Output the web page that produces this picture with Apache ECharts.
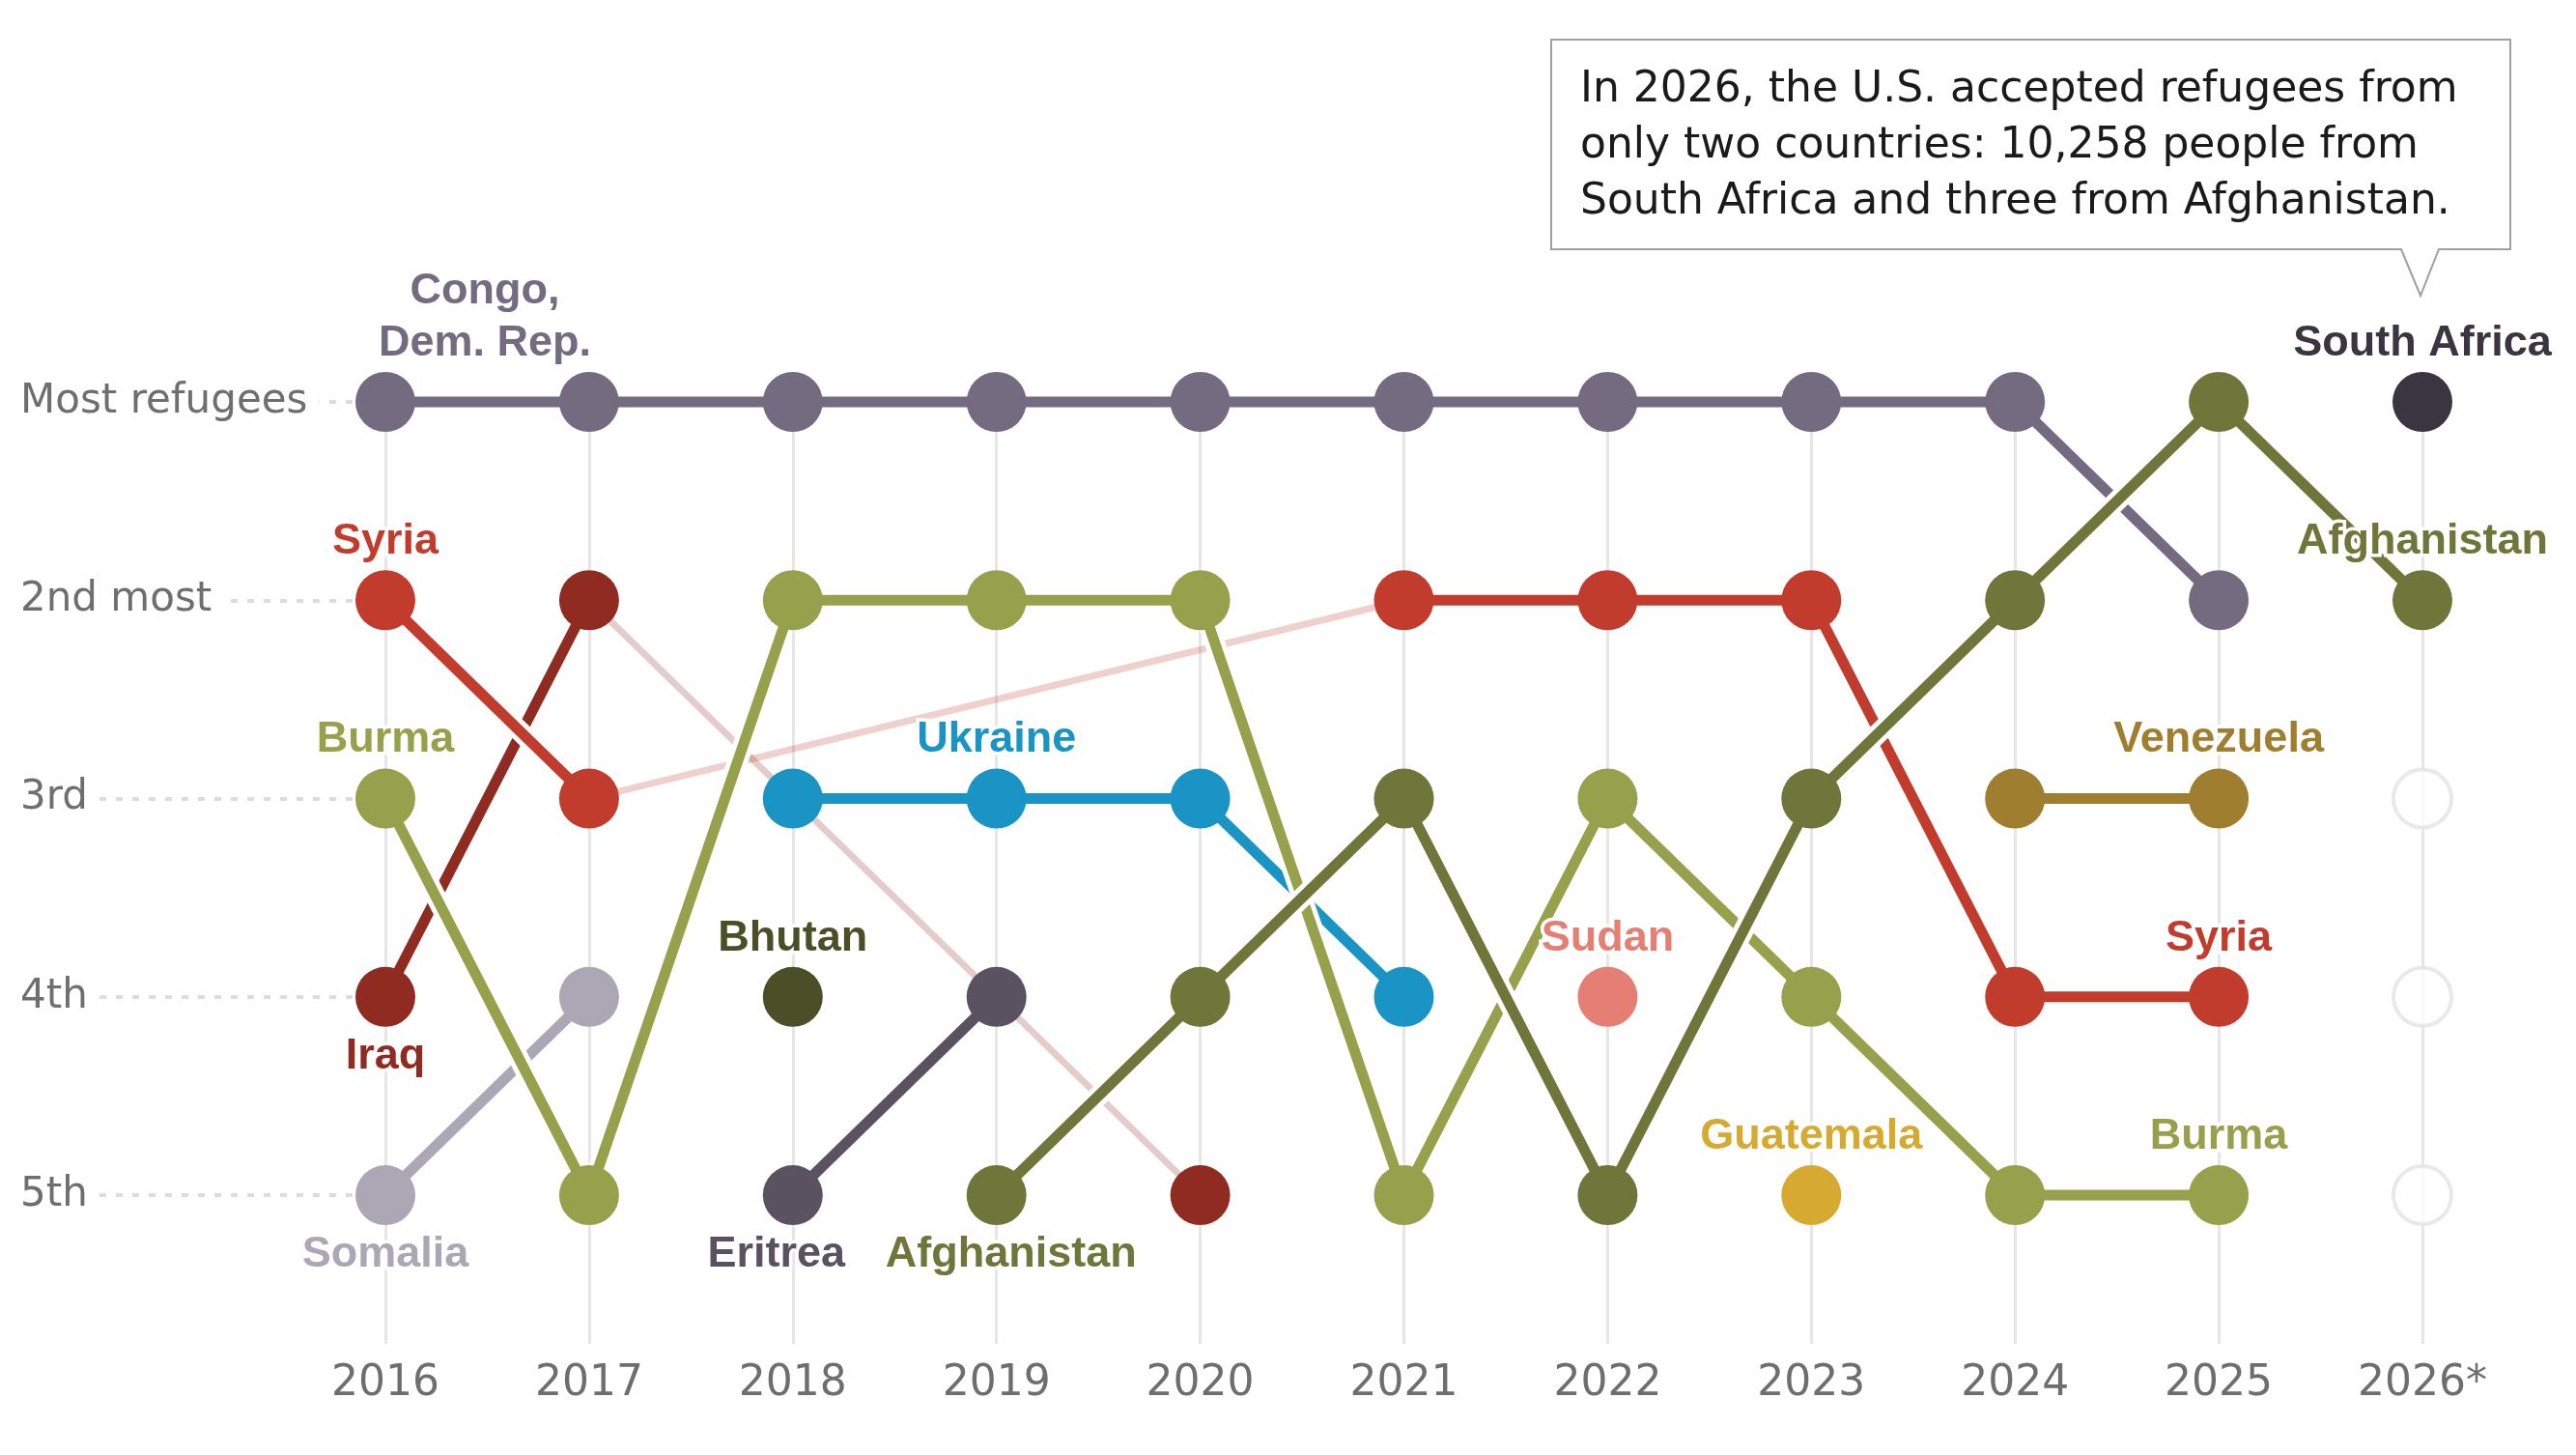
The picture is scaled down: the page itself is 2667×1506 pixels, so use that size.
<!DOCTYPE html>
<html><head><meta charset="utf-8">
<script src="https://cdn.jsdelivr.net/npm/echarts@6/dist/echarts.min.js"></script>
<style>html,body{margin:0;padding:0;background:#fff}#c{width:2667px;height:1506px}</style>
</head><body><div id="c"></div><script>
// ---- data ----
const years = ['2016','2017','2018','2019','2020','2021','2022','2023','2024','2025','2026*'];
const rankLabels = ['Most refugees','2nd most','3rd','4th','5th'];
const congo       = [1,1,1,1,1,1,1,1,1,2,null];
const syria       = [2,3,null,null,null,2,2,2,4,4,null];
const syriaGap    = [null,3,null,null,null,2,null,null,null,null,null];
const iraq        = [4,2,null,null,5,null,null,null,null,null,null];
const iraqGap     = [null,2,null,null,5,null,null,null,null,null,null];
const burma       = [3,5,2,2,2,5,3,4,5,5,null];
const somalia     = [5,4,null,null,null,null,null,null,null,null,null];
const ukraine     = [null,null,3,3,3,4,null,null,null,null,null];
const bhutan      = [null,null,4,null,null,null,null,null,null,null,null];
const eritrea     = [null,null,5,4,null,null,null,null,null,null,null];
const afghanistan = [null,null,null,5,4,3,5,3,2,1,2];
const sudan       = [null,null,null,null,null,null,4,null,null,null,null];
const guatemala   = [null,null,null,null,null,null,null,5,null,null,null];
const venezuela   = [null,null,null,null,null,null,null,null,3,3,null];
const southAfrica = [null,null,null,null,null,null,null,null,null,null,1];
const emptySlots  = [null,null,null,null,null,null,null,null,null,null,[3,4,5]];
const noteText = 'In 2026, the U.S. accepted refugees from\nonly two countries: 10,258 people from\nSouth Africa and three from Afghanistan.';

// ---- styles ----
const FONT = '"Liberation Sans", Arial, sans-serif';
const FONT_REG = '"DejaVu Sans", "Liberation Sans", sans-serif';
const countries = [
  {name:'Somalia', ranks:somalia, color:'#aca7b4', labels:[[0,'bottom','Somalia',0]]},
  {name:'Iraq', ranks:iraq, color:'#8f2b20', labels:[[0,'bottom','Iraq',0]]},
  {name:'Syria', ranks:syria, color:'#c13c2c', labels:[[0,'top','Syria',0],[9,'top','Syria',0]]},
  {name:'Congo', ranks:congo, color:'#756b80', labels:[[0,'top','Congo,\nDem. Rep.',103]]},
  {name:'Eritrea', ranks:eritrea, color:'#5a5261', labels:[[2,'bottom','Eritrea',-17]]},
  {name:'Bhutan', ranks:bhutan, color:'#4a4f27', labels:[[2,'top','Bhutan',0]]},
  {name:'Ukraine', ranks:ukraine, color:'#1a93c5', labels:[[3,'top','Ukraine',0]]},
  {name:'Burma', ranks:burma, color:'#97a04b', labels:[[0,'top','Burma',0],[9,'top','Burma',0]]},
  {name:'Sudan', ranks:sudan, color:'#e57f74', labels:[[6,'top','Sudan',0]]},
  {name:'Guatemala', ranks:guatemala, color:'#d6aa30', labels:[[7,'top','Guatemala',0]]},
  {name:'Venezuela', ranks:venezuela, color:'#a07e2f', labels:[[9,'top','Venezuela',0]]},
  {name:'Afghanistan', ranks:afghanistan, color:'#6e763a', labels:[[3,'bottom','Afghanistan',15],[10,'top','Afghanistan',0]]},
  {name:'South Africa', ranks:southAfrica, color:'#3b3542', labels:[[10,'top','South Africa',0]]}
];
const gaps = [
  {ranks:syriaGap, color:'rgba(193,60,44,0.24)'},
  {ranks:iraqGap, color:'rgba(143,43,32,0.24)'}
];

const series = [];
gaps.forEach(g => series.push({
  type:'line', data:g.ranks, connectNulls:true, showSymbol:false, clip:false, z:2,
  lineStyle:{color:g.color, width:7}, silent:true
}));
countries.forEach(c => {
  series.push({type:'line', data:c.ranks, showSymbol:false, clip:false, z:2, silent:true,
    lineStyle:{color:'#fff', width:21}});
  series.push({type:'line', data:c.ranks, showSymbol:false, clip:false, z:2, silent:true,
    lineStyle:{color:c.color, width:11}});
});
countries.forEach(c => {
  const pts = [];
  c.ranks.forEach((v,i) => {
    if (v == null) return;
    const item = {value:[i, v]};
    const lab = c.labels.find(l => l[0] === i);
    if (lab) {
      const multi = lab[2].indexOf('\n') >= 0;
      item.label = {show:true, position:lab[1], distance: lab[1]==='top' ? (multi?2:7) : 8,
        offset:[lab[3],0], formatter:lab[2], color:c.color, fontFamily:FONT, fontWeight:'bold',
        fontSize:45, lineHeight: multi ? 54 : 45, align:'center',
        textBorderColor:'#fff', textBorderWidth:7};
    }
    pts.push(item);
  });
  series.push({type:'scatter', name:c.name, data:pts, symbol:'circle', symbolSize:62, clip:false, z:5,
    itemStyle:{color:c.color, opacity:1}});
});
const emptyPts = [];
emptySlots.forEach((arr,i) => { if (arr) arr.forEach(v => emptyPts.push([i, v])); });
series.push({type:'scatter', data:emptyPts, symbol:'circle', symbolSize:60, clip:false, z:5,
  itemStyle:{color:'#fff', borderColor:'#e4e4e4', borderWidth:4}});

const chart = echarts.init(document.getElementById('c'), null, {renderer:'canvas'});
chart.setOption({
  animation:false,
  backgroundColor:'#fff',
  grid:{left:399, right:159, top:416, bottom:115, containLabel:false},
  xAxis:{type:'category', data:years, boundaryGap:false,
    axisLine:{show:false}, axisTick:{show:false},
    axisLabel:{margin:20, interval:0, fontSize:44, color:'#6e6e6e', fontFamily:FONT_REG},
    splitLine:{show:true, interval:0, lineStyle:{color:'#e6e6e6', width:3}}},
  yAxis:{type:'value', inverse:true, min:1, max:5.75, interval:1,
    splitLine:{show:false}, axisLine:{show:false},
    axisTick:{show:true, customValues:[1,2,3,4,5], length:320,
      lineStyle:{color:'#dcdcdc', width:4, type:[7,10]}},
    axisLabel:{customValues:[1,2,3,4,5], align:'left', margin:378, fontSize:42, color:'#6e6e6e',
      fontFamily:FONT_REG, backgroundColor:'#fff', padding:[6,12,6,0],
      formatter:v => rankLabels[Math.round(v)-1] || ''}},
  series:series,
  graphic:[
    {type:'polygon', z:10, shape:{points:[[1606,41],[2599,41],[2599,258],[2525,258],[2506,306],[2486,258],[1606,258]]},
      style:{fill:'#fff', stroke:'#a0a0a0', lineWidth:2}},
    {type:'text', z:11, x:1636, y:65, style:{text:noteText, fontSize:44, fontFamily:FONT_REG, fill:'#1a1a1a',
      lineHeight:58, verticalAlign:'top', align:'left'}}
  ]
});
</script></body></html>
